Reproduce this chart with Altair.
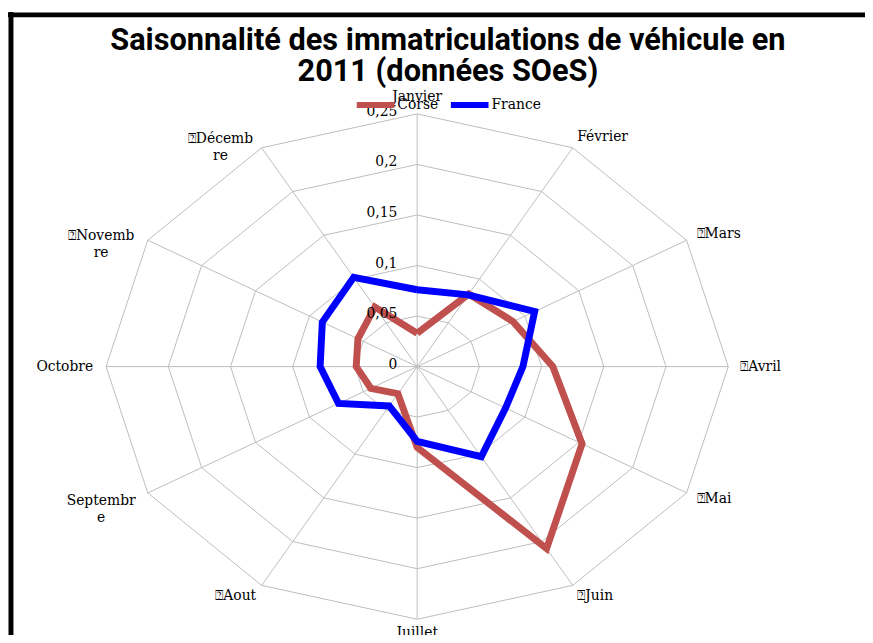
import altair as alt
import pandas as pd

# ---- data ----
months = ["Janvier", "Février", "Mars", "Avril", "Mai", "Juin", "Juillet",
          "Aout", "Septembre", "Octobre", "Novembre", "Décembre"]
month_labels = ["Janvier", "Février", "⍰Mars", "⍰Avril", "⍰Mai", "⍰Juin", "Juillet",
                "⍰Aout", "Septembr\ne", "Octobre", "⍰Novemb\nre", "⍰Décemb\nre"]
corse = [0.033, 0.083, 0.089, 0.109, 0.153, 0.208, 0.080, 0.031, 0.043, 0.049, 0.055, 0.068]
france = [0.076, 0.082, 0.109, 0.085, 0.082, 0.103, 0.074, 0.045, 0.073, 0.078, 0.088, 0.102]
series_names = ["Corse", "France"]
series_colors = ["#c0504d", "#0000ff"]
tick_values = [0, 0.05, 0.1, 0.15, 0.2, 0.25]
tick_labels = ["0", "0,05", "0,1", "0,15", "0,2", "0,25"]
title_lines = ["Saisonnalité des immatriculations de véhicule en", "2011 (données SOeS)"]

R = max(tick_values)
LABEL_R = 0.262

# ---- tables built from the arrays ----
n = len(months)
rows = []
for name, vals in zip(series_names, [corse, france]):
    for i in range(n + 1):
        rows.append({"serie": name, "i": i, "mois": months[i % n], "v": vals[i % n]})
series_df = pd.DataFrame(rows)

grid_df = pd.DataFrame([{"level": lv, "i": i} for lv in tick_values[1:] for i in range(n + 1)])
spoke_df = pd.DataFrame([{"i": i, "r": R, "c": 0} for i in range(n)])
label_df = pd.DataFrame([{"i": i, "label": month_labels[i], "r": LABEL_R} for i in range(n)])
tick_df = pd.DataFrame({"v": tick_values, "t": tick_labels, "c": [0] * len(tick_values)})

W, H = 628, 510
xs = alt.Scale(domain=[-R, R], nice=False, zero=False)
ys = alt.Scale(domain=[-R, R], nice=False, zero=False)

def polar(df, rfield):
    return alt.Chart(df).transform_calculate(
        px=f"datum.{rfield} * sin(datum.i * PI / 6)",
        py=f"datum.{rfield} * cos(datum.i * PI / 6)",
    )

grid = polar(grid_df, "level").mark_line(color="#bdbdbd", strokeWidth=1).encode(
    x=alt.X("px:Q", scale=xs, axis=None),
    y=alt.Y("py:Q", scale=ys, axis=None),
    detail="level:N",
    order="i:Q",
)

spokes = polar(spoke_df, "r").mark_rule(color="#bdbdbd", strokeWidth=1).encode(
    x=alt.X("c:Q", scale=xs, axis=None),
    y=alt.Y("c:Q", scale=ys, axis=None),
    x2="px:Q",
    y2="py:Q",
)

lines = polar(series_df, "v").mark_line(strokeWidth=7, strokeJoin="miter").encode(
    x=alt.X("px:Q", scale=xs, axis=None),
    y=alt.Y("py:Q", scale=ys, axis=None),
    color=alt.Color(
        "serie:N",
        scale=alt.Scale(domain=series_names, range=series_colors),
        legend=alt.Legend(
            title=None, orient="none", legendX=250, legendY=-31, direction="horizontal",
            symbolType="stroke", symbolSize=1444, symbolStrokeWidth=6,
            labelFont="DejaVu Serif", labelFontSize=14, labelColor="black",
            labelOffset=0, columnPadding=0,
        ),
    ),
    order="i:Q",
)

def month_text(idx, align, dx=0, dy=0):
    return polar(label_df, "r").transform_filter(
        alt.FieldOneOfPredicate(field="i", oneOf=idx)
    ).mark_text(
        align=align, baseline="middle", dx=dx, dy=dy, lineBreak="\n",
        font="DejaVu Serif", fontSize=14, color="black", lineHeight=17,
    ).encode(
        x=alt.X("px:Q", scale=xs, axis=None),
        y=alt.Y("py:Q", scale=ys, axis=None),
        text="label:N",
    )

lab_top = month_text([0], "center", dy=-5)
lab_bottom = month_text([6], "center", dy=2)
lab_right = month_text([1, 2, 3, 4, 5], "left", dx=-3)
lab_left = month_text([7, 9], "right", dx=2)
lab_wrap = month_text([8, 10, 11], "center", dx=-34, dy=2)

ticks = alt.Chart(tick_df).mark_text(
    align="right", baseline="middle", dx=-20, dy=-2,
    font="DejaVu Serif", fontSize=14, color="black",
).encode(
    x=alt.X("c:Q", scale=xs, axis=None),
    y=alt.Y("v:Q", scale=ys, axis=None),
    text="t:N",
)

border = alt.Chart(pd.DataFrame({"k": [0]})).mark_rule(color="black", strokeWidth=5).encode(
    x=alt.value(-96), x2=alt.value(-96), y=alt.value(-103), y2=alt.value(540),
)
border_top = alt.Chart(pd.DataFrame({"k": [0]})).mark_rule(color="black", strokeWidth=5).encode(
    x=alt.value(-99), x2=alt.value(770), y=alt.value(-100), y2=alt.value(-100),
)

chart = alt.layer(
    grid, spokes, lines, lab_top, lab_bottom, lab_right, lab_left, lab_wrap, ticks,
    border, border_top,
).properties(
    width=W, height=H,
    title=alt.TitleParams(
        text=title_lines, font="Roboto",
        fontSize=31, fontWeight="bold", color="black", anchor="middle", frame="group",
        dx=31, dy=79, offset=0, lineHeight=31,
    ),
    autosize=alt.AutoSizeParams(type="none"),
    padding={"left": 99, "top": 104, "right": 138, "bottom": 13},
).configure_view(stroke=None)

chart.save("out.html", embed_options={"renderer": "svg", "actions": False})
